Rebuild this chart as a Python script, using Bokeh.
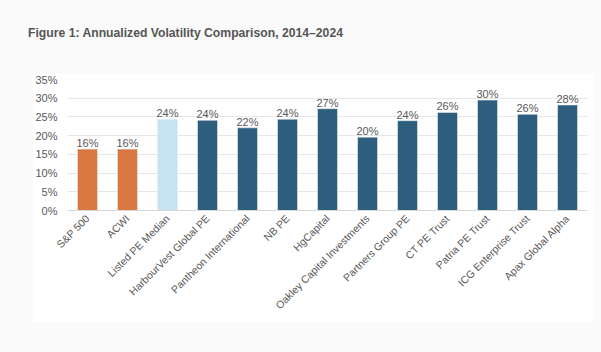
import math
from bokeh.plotting import figure
from bokeh.layouts import column
from bokeh.models import (ColumnDataSource, FixedTicker, PrintfTickFormatter,
                          LabelSet, Div)
from bokeh.core.properties import value
from bokeh.embed import file_html
from bokeh.resources import INLINE

categories = ["S&P 500", "ACWI", "Listed PE Median", "HarbourVest Global PE",
              "Pantheon International", "NB PE", "HgCapital",
              "Oakley Capital Investments", "Partners Group PE", "CT PE Trust",
              "Patria PE Trust", "ICG Enterprise Trust", "Apax Global Alpha"]
volatility = [16.4, 16.4, 24.4, 24.1, 22.1, 24.4, 27.2, 19.6, 24.0, 26.2, 29.5, 25.7, 28.2]
groups = ["index", "index", "median", "trust", "trust", "trust", "trust",
          "trust", "trust", "trust", "trust", "trust", "trust"]
y_ticks = [0, 5, 10, 15, 20, 25, 30, 35]
title_text = "Figure 1: Annualized Volatility Comparison, 2014\u20132024"

palette = {"index": "#D97841", "median": "#C6E2F3", "trust": "#2D5E7E"}
source = ColumnDataSource(dict(
    cat=categories,
    val=volatility,
    color=[palette[g] for g in groups],
    lab=[f"{round(v)}%" for v in volatility],
))

p = figure(x_range=categories, y_range=(0, 35), width=562, height=249,
           output_backend="svg", toolbar_location=None,
           min_border_left=33, min_border_right=7, min_border_top=6,
           min_border_bottom=112, margin=(0, 0, 0, 32))
p.border_fill_color = "white"
p.background_fill_color = "white"
p.outline_line_color = None

p.vbar(x="cat", top="val", width=0.5, source=source, fill_color="color",
       line_color="#E8EEF2", line_width=0.6)

labels = LabelSet(x="cat", y="val", text="lab", source=source,
                  text_align="center", text_baseline="bottom", y_offset=0,
                  text_font=value("Liberation Sans"), text_font_size="11px",
                  text_color="#595959")
p.add_layout(labels)

p.yaxis.ticker = FixedTicker(ticks=y_ticks)
p.yaxis.formatter = PrintfTickFormatter(format="%d%%")
p.yaxis.axis_line_color = None
p.yaxis.major_tick_line_color = None
p.yaxis.minor_tick_line_color = None
p.yaxis.major_label_text_font = "Liberation Sans"
p.yaxis.major_label_text_font_size = "11px"
p.yaxis.major_label_text_color = "#595959"
p.yaxis.major_label_standoff = 4

p.xaxis.axis_line_color = "#D9D9D9"
p.xaxis.major_tick_line_color = None
p.xaxis.minor_tick_line_color = None
p.xaxis.major_label_orientation = math.pi / 4
p.xaxis.major_label_text_font = "Liberation Sans"
p.xaxis.major_label_text_font_size = "10.5px"
p.xaxis.major_label_text_color = "#595959"
p.xaxis.major_label_standoff = 0

p.xgrid.grid_line_color = None
p.ygrid.grid_line_color = "#E6E6E6"
p.ygrid.ticker = FixedTicker(ticks=y_ticks)

title = Div(text=title_text, width=560, height=20, margin=(25, 0, 0, 28),
            styles={"font-family": "Liberation Sans, Arial, sans-serif",
                    "font-weight": "bold", "font-size": "12.2px",
                    "color": "#555555", "line-height": "16px"})

layout = column(title, p, width=601, height=352, spacing=28,
                styles={"background-color": "#FAFAFA"})

open("out.html", "w").write(file_html(layout, INLINE))
